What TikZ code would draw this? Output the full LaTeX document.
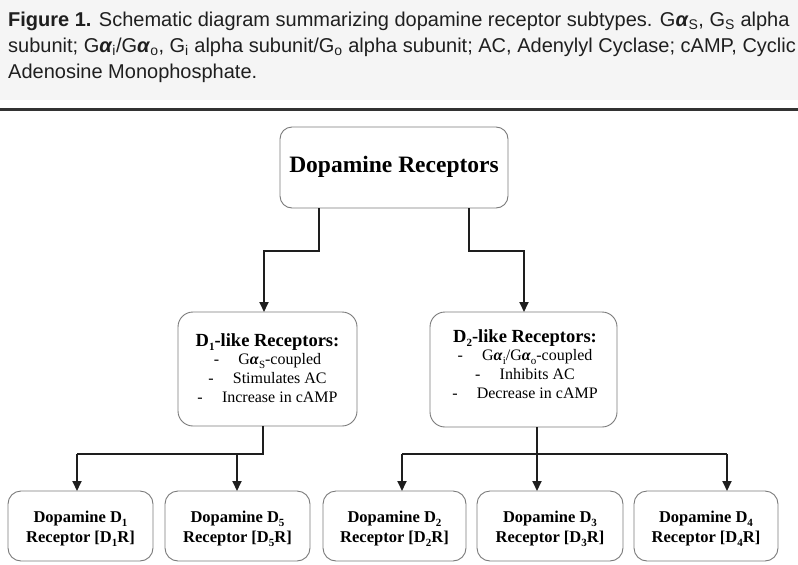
\documentclass[tikz,border=0pt]{standalone}
\usepackage{amsmath}
\usepackage{fontspec}
\setmainfont{Liberation Serif}
\newfontfamily\capfont{Liberation Sans}
\usetikzlibrary{arrows.meta}
\definecolor{hdrbg}{HTML}{F5F5F5}
\definecolor{boxline}{HTML}{7A7A7A}
\definecolor{conn}{HTML}{1E1E1E}
\tikzset{
  rbox/.style={draw=boxline, line width=0.9pt, rounded corners=13pt, fill=white, inner sep=0pt},
  conline/.style={draw=conn, line width=1.8pt},
  conarrow/.style={conline, -{Triangle[length=10pt,width=9pt]}},
  captxt/.style={anchor=base west, inner sep=0pt, font=\capfont\fontsize{20}{22}\selectfont, text=black!88},
  btxt/.style={font=\bfseries\fontsize{16.5}{20}\selectfont, align=center, inner sep=0pt},
  liketxt/.style={font=\fontsize{16}{20}\selectfont, align=center, inner sep=0pt},
}
\newcommand{\galpha}{\textbf{\textit{α}}}
\newcommand{\sbs}[1]{$_{\text{#1}}$}
\newcommand{\lsb}[1]{\raisebox{-0.55ex}{\fontsize{11}{11}\selectfont #1}}
\newcommand{\likehead}[1]{{\fontsize{18.5}{20}\selectfont\textbf{D\lsb{#1}-like Receptors:}}}
\begin{document}
\begin{tikzpicture}[x=1pt,y=-1pt]
\useasboundingbox (0,0) rectangle (798,565);
\fill[hdrbg] (0,0) rectangle (798,100);
\fill[black!80] (0,108) rectangle (798,110.5);
% caption
\node[captxt] (cap1) at (8,26) {\textbf{Figure 1.} Schematic diagram summarizing dopamine receptor subtypes. G\galpha\sbs{S}, G\sbs{S} alpha};
\node[captxt] (cap2) at (8,52) {subunit; G\galpha\sbs{i}/G\galpha\sbs{o}, G\sbs{i} alpha subunit/G\sbs{o} alpha subunit; AC, Adenylyl Cyclase; cAMP, Cyclic};
\node[captxt] (cap3) at (8,78) {Adenosine Monophosphate.};
% boxes
\draw[rbox, rounded corners=12pt] (280,127) rectangle (508,208);
\node[font=\bfseries\fontsize{23.5}{26}\selectfont, inner sep=0pt] (top) at (394,167) {Dopamine Receptors};
\coordinate (topL) at (319,208);
\coordinate (topR) at (469,208);

\draw[rbox, rounded corners=15pt] (178,312) rectangle (357,426);
\node[liketxt] (d1like) at (267.5,368)
 {\likehead{1}\\[-1.5pt]
  -\hspace{1.2em}G\galpha\lsb{S}-coupled\\[-1pt]
  -\hspace{1.2em}Stimulates AC\\[-1pt]
  -\hspace{1.2em}Increase in cAMP};
\coordinate (d1top) at (264,312);
\coordinate (d1bot) at (263,426);

\draw[rbox, rounded corners=15pt] (430,312) rectangle (617,427);
\node[liketxt] (d2like) at (525,364)
 {\likehead{2}\\[-1.5pt]
  -\hspace{1.2em}G\galpha\lsb{i}/G\galpha\lsb{o}-coupled\\[-1pt]
  -\hspace{1.2em}Inhibits AC\\[-1pt]
  -\hspace{1.2em}Decrease in cAMP};
\coordinate (d2top) at (524,312);
\coordinate (d2bot) at (537,427);

% bottom boxes
\foreach \nm/\xl/\xr/\k in {b1/8/153/1, b5/165/310/5, b2/323/466/2, b3/477/623/3, b4/634/778/4}{
  \draw[rbox] (\xl,491) rectangle (\xr,561);
  \node[btxt] (\nm) at ({(\xl+\xr)/2},529) {Dopamine D\lsb{\k}\\Receptor [D\lsb{\k}R]};
}
% connectors
\draw[conarrow] (topL) -- (319,251) -| (d1top);
\draw[conarrow] (topR) -- (469,251) -| (d2top);
\draw[conline] (d1bot) -- (263,454) -- (77,454);
\draw[conarrow] (77,454) -- (77,491);
\draw[conarrow] (237,454) -- (237,491);
\draw[conline] (d2bot) -- (537,454);
\draw[conline] (402,454) -- (727,454);
\draw[conarrow] (402,454) -- (402,491);
\draw[conarrow] (537,454) -- (537,491);
\draw[conarrow] (727,454) -- (727,491);
\end{tikzpicture}
\end{document}
